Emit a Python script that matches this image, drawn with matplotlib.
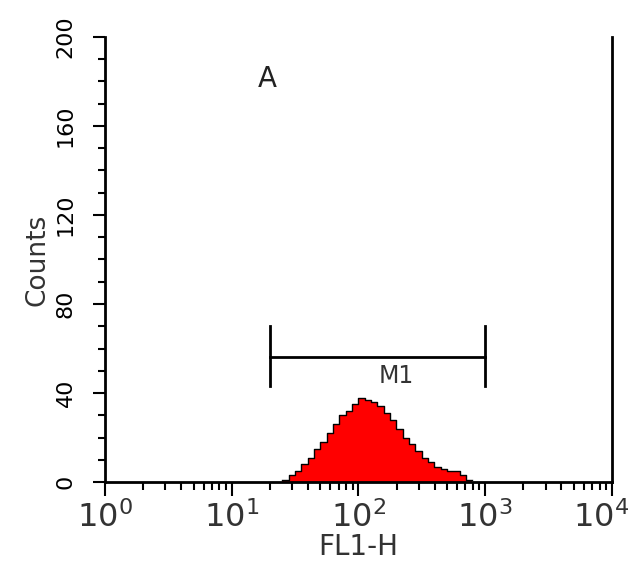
import numpy as np
import matplotlib.pyplot as plt
from matplotlib.transforms import ScaledTranslation

# histogram bins (log10 of FL1-H) and counts
bin_start = 1.40
bin_width = 0.05
counts = [1, 3, 5, 8, 11, 15, 18, 22, 26, 30,
          32, 35, 38, 37, 36, 34, 31, 28, 24, 20,
          17, 14, 11, 9, 7, 6, 5, 5, 3, 1]

# M1 marker range
m1_low = 20
m1_high = 1000
m1_level = 56

y_ticks = [0, 40, 80, 120, 160, 200]
x_ticks = [1, 10, 100, 1000, 10000]
x_labels = ['$10^0$', '$10^1$', '$10^2$', '$10^3$', '$10^4$']


def main():
    fig = plt.figure(figsize=(6.36, 5.76), dpi=100)
    ax = fig.add_axes([0.165, 0.163, 0.797, 0.773])

    edges = 10 ** (bin_start + bin_width * np.arange(len(counts) + 1))
    vals = np.append(counts, counts[-1])
    ax.fill_between(edges, vals, step='post', color='#ff0000', lw=0)
    ax.step(edges, vals, where='post', color='black', lw=1.0)

    # M1 gate
    ax.plot([m1_low, m1_high], [m1_level, m1_level], color='black', lw=2)
    ax.plot([m1_low, m1_low], [m1_level - 13, m1_level + 14], color='black', lw=2)
    ax.plot([m1_high, m1_high], [m1_level - 13, m1_level + 14], color='black', lw=2)
    ax.text(200, m1_level - 3, 'M1', ha='center', va='top', fontsize=17, color='#333333')

    ax.text(19, 181, 'A', ha='center', va='center', fontsize=20, color='#222222')

    ax.set_xscale('log')
    ax.set_xlim(1, 10000)
    ax.set_ylim(0, 200)
    ax.set_xticks(x_ticks)
    ax.set_xticklabels(x_labels)
    ax.set_yticks(y_ticks)
    ax.set_yticks(np.arange(0, 201, 10), minor=True)

    ax.spines['top'].set_visible(False)
    for s in ['left', 'bottom', 'right']:
        ax.spines[s].set_linewidth(2)

    ax.tick_params(axis='x', which='major', length=10, width=1.5,
                   labelsize=23, labelcolor='#333333', pad=4)
    ax.tick_params(axis='x', which='minor', length=6, width=1.5)
    ax.tick_params(axis='y', which='major', length=9, width=1.5,
                   labelsize=16, labelrotation=90, pad=12)
    ax.tick_params(axis='y', which='minor', length=5, width=1.5)
    for lab in ax.get_yticklabels():
        lab.set_verticalalignment('center')

    # keep the last x label inside the figure
    last = ax.get_xticklabels()[-1]
    last.set_transform(last.get_transform() + ScaledTranslation(-8 / 72, 0, fig.dpi_scale_trans))

    ax.set_xlabel('FL1-H', fontsize=20, color='#333333', labelpad=-1)
    ax.set_ylabel('Counts', fontsize=19, color='#333333', labelpad=4)

    fig.savefig('out.png')


if __name__ == '__main__':
    main()
